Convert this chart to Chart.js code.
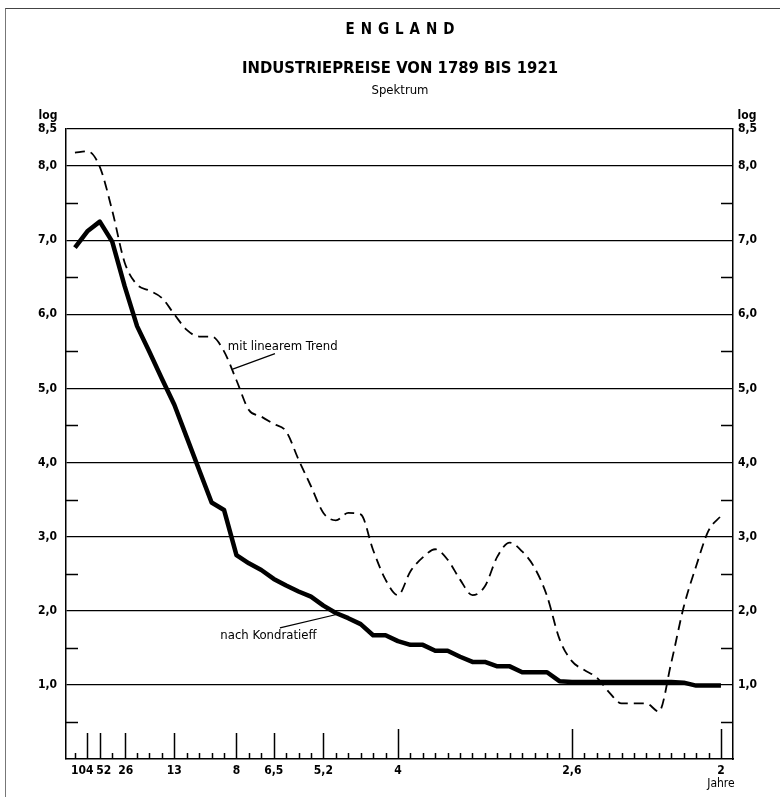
<!DOCTYPE html>
<html>
<head>
<meta charset="utf-8">
<script src="https://cdn.jsdelivr.net/npm/chart.js@4.4.1/dist/chart.umd.min.js"></script>
<style>
  html, body { margin: 0; padding: 0; background: #fff; }
  #wrap { position: relative; width: 780px; height: 797px; overflow: hidden; }
  #frame { position: absolute; left: 5px; top: 8px; right: -4px; bottom: -4px; border-top: 1px solid #444; border-left: 1px solid #777; }
  .t { position: absolute; left: 0; width: 800px; text-align: center; color: #000; line-height: 1;
       font-family: 'DejaVu Sans Condensed', 'DejaVu Sans', sans-serif; }
  #t1 { top: 22px; font-size: 15px; font-weight: bold; letter-spacing: 6px; padding-left: 6px; box-sizing: border-box; }
  #t2 { top: 60px; font-size: 16.5px; font-weight: bold; }
  #t3 { top: 83px; font-size: 13px; }
  canvas { position: absolute; left: 0; top: 0; }
</style>
</head>
<body>
<div id="wrap">
  <div id="frame"></div>
  <canvas id="chart" width="780" height="797"></canvas>
  <div class="t" id="t1">ENGLAND</div>
  <div class="t" id="t2">INDUSTRIEPREISE VON 1789 BIS 1921</div>
  <div class="t" id="t3">Spektrum</div>
</div>
<script>
// spectral index j = 0..52, period in years = 104 / j
const periodIdx = [1, 2, 4, 8, 13, 16, 20, 26, 40, 52];
const periodLabels = ['104', '52', '26', '13', '8', '6,5', '5,2', '4', '2,6', '2'];
const yTicks = [1, 2, 3, 4, 5, 6, 7, 8, 8.5];
const yHalfTicks = [0.5, 1.5, 2.5, 3.5, 4.5, 5.5, 6.5, 7.5];

// log spectrum, Kondratieff series (solid)
const kondratieff = [
  6.90, 7.12, 7.25, 6.98, 6.38, 5.84, 5.49, 5.13, 4.78, 4.34,
  3.90, 3.46, 3.36, 2.75, 2.64, 2.55, 2.43, 2.34, 2.26, 2.19,
  2.07, 1.97, 1.90, 1.82, 1.67, 1.67, 1.59, 1.54, 1.54, 1.46,
  1.46, 1.38, 1.31, 1.31, 1.25, 1.25, 1.17, 1.17, 1.17, 1.05,
  1.04, 1.04, 1.04, 1.04, 1.04, 1.04, 1.04, 1.04, 1.04, 1.03,
  0.99, 0.99, 0.99
];
// log spectrum with linear trend (dashed)
const linearTrend = [
  8.18, 8.20, 7.99, 7.40, 6.70, 6.40, 6.32, 6.22, 6.00, 5.79,
  5.70, 5.70, 5.50, 5.11, 4.71, 4.62, 4.52, 4.42, 4.04, 3.68,
  3.32, 3.22, 3.32, 3.30, 2.82, 2.42, 2.21, 2.53, 2.72, 2.83,
  2.69, 2.42, 2.21, 2.33, 2.73, 2.92, 2.80, 2.58, 2.20, 1.62,
  1.32, 1.20, 1.10, 0.90, 0.75, 0.75, 0.75, 0.64, 1.30, 2.05,
  2.60, 3.08, 3.28
];

const FONT = "'DejaVu Sans Condensed', 'DejaVu Sans', sans-serif";
const fmt = v => v.toFixed(1).replace('.', ',');
// the crowded labels at the long-period end sit slightly off their ticks in the original
const labelNudge = { 1: -5, 2: 4, 4: 1 };

// axis furniture that Chart.js has no option for: inward tick marks, period labels, "log", "Jahre", callouts
const decor = {
  id: 'decor',
  afterDraw(chart) {
    const { ctx, chartArea: a, scales: { x, y } } = chart;
    ctx.save();
    ctx.strokeStyle = '#000';
    ctx.lineWidth = 1.5;
    ctx.beginPath();
    yHalfTicks.forEach(v => {
      const py = Math.round(y.getPixelForValue(v)) + 0.5;
      ctx.moveTo(a.left, py); ctx.lineTo(a.left + 12, py);
      ctx.moveTo(a.right - 12, py); ctx.lineTo(a.right, py);
    });
    for (let j = 0; j <= 52; j++) {
      const px = Math.round(x.getPixelForValue(j)) + 0.5;
      const len = periodIdx.includes(j) ? (j >= 26 ? 30 : 26) : 6;
      ctx.moveTo(px, a.bottom); ctx.lineTo(px, a.bottom - len);
    }
    ctx.stroke();

    ctx.fillStyle = '#000';
    ctx.textAlign = 'center';
    ctx.textBaseline = 'middle';
    ctx.font = 'bold 12px ' + FONT;
    periodIdx.forEach((j, i) => {
      ctx.fillText(periodLabels[i], x.getPixelForValue(j) + (labelNudge[j] || 0), 771);
    });
    ctx.fillText('log', a.left - 18, a.top - 13);
    ctx.fillText('log', a.right + 14, a.top - 13);
    ctx.font = '12px ' + FONT;
    ctx.fillText('Jahre', x.getPixelForValue(52), 784);

    // callouts
    ctx.font = '13px ' + FONT;
    ctx.textAlign = 'left';
    ctx.fillText('mit linearem Trend', x.getPixelForValue(12.3), y.getPixelForValue(5.57));
    ctx.fillText('nach Kondratieff', x.getPixelForValue(11.7), y.getPixelForValue(1.66));
    ctx.lineWidth = 1.2;
    ctx.beginPath();
    ctx.moveTo(x.getPixelForValue(12.7), y.getPixelForValue(5.26));
    ctx.lineTo(x.getPixelForValue(16.1), y.getPixelForValue(5.47));
    ctx.moveTo(x.getPixelForValue(16.5), y.getPixelForValue(1.77));
    ctx.lineTo(x.getPixelForValue(21.3), y.getPixelForValue(1.96));
    ctx.stroke();
    ctx.restore();
  }
};

const yAxis = (pos, extra) => Object.assign({
  type: 'linear', position: pos, min: 0, max: 8.5,
  afterBuildTicks: s => { s.ticks = yTicks.map(v => ({ value: v })); },
  border: { display: true, color: '#000', width: 1.5 },
}, extra);

new Chart(document.getElementById('chart'), {
  type: 'line',
  data: {
    datasets: [
      {
        label: 'nach Kondratieff',
        data: kondratieff.map((v, j) => ({ x: j, y: v })),
        borderColor: '#000', borderWidth: 4.5, tension: 0, borderJoinStyle: 'round',
      },
      {
        label: 'mit linearem Trend',
        data: linearTrend.map((v, j) => ({ x: j, y: v })),
        borderColor: '#000', borderWidth: 1.8, borderDash: [10, 6],
        cubicInterpolationMode: 'monotone',
      },
    ],
  },
  options: {
    responsive: false,
    animation: false,
    layout: { padding: { top: 129, left: 0, right: 0, bottom: 0 } },
    elements: { point: { radius: 0 } },
    plugins: { legend: { display: false }, tooltip: { enabled: false } },
    scales: {
      x: {
        type: 'linear', min: -0.72, max: 52.97,
        afterBuildTicks: s => { s.ticks = periodIdx.map(v => ({ value: v })); },
        afterFit: s => { s.height = 38; },
        ticks: { display: false },
        grid: { display: false },
        border: { display: true, color: '#000', width: 1.5 },
      },
      y: yAxis('left', {
        afterFit: s => { s.width = 66; },
        grid: { color: '#000', lineWidth: 1.3, drawTicks: false },
        ticks: { callback: v => fmt(v), padding: 9, color: '#000', font: { family: FONT, size: 12, weight: 'bold' } },
      }),
      y2: yAxis('right', {
        afterFit: s => { s.width = 47; },
        grid: { drawOnChartArea: false, drawTicks: false },
        ticks: { callback: v => fmt(v), padding: 5, color: '#000', font: { family: FONT, size: 12, weight: 'bold' } },
      }),
    },
  },
  plugins: [decor],
});
</script>
</body>
</html>
